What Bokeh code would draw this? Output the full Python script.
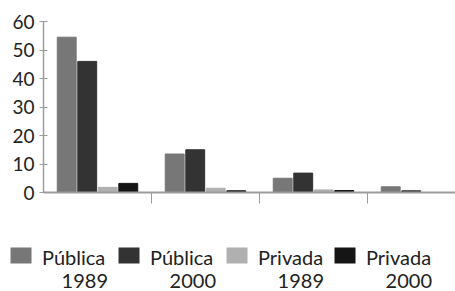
import numpy as np
from bokeh.plotting import figure
from bokeh.models import Range1d, FixedTicker, ColumnDataSource
from bokeh.transform import dodge
from bokeh.layouts import column
from bokeh.embed import file_html
from bokeh.resources import INLINE
from bokeh.core.properties import value

# ---- data ----
groups = ["G1", "G2", "G3", "G4"]
publica_1989 = [54.5, 13.5, 5.0, 2.0]
publica_2000 = [46.0, 15.0, 6.8, 0.6]
privada_1989 = [1.8, 1.5, 0.9, 0.0]
privada_2000 = [3.2, 0.6, 0.7, 0.0]
series_names = ["Pública", "Pública", "Privada", "Privada"]
series_years = ["1989", "2000", "1989", "2000"]
series_colors = ["#777777", "#333333", "#b0b0b0", "#151515"]
y_ticks = [0, 10, 20, 30, 40, 50, 60]
group_bounds = [1, 2, 3]

FONT = "Lato"
TXT = "#222222"
AXC = "#9c9c9c"

x = np.arange(len(groups)) + 0.5
src = ColumnDataSource(dict(x=x, s0=publica_1989, s1=publica_2000,
                            s2=privada_1989, s3=privada_2000))

p = figure(width=455, height=212, x_range=Range1d(0, 3.815), y_range=Range1d(0, 60),
           output_backend="svg", toolbar_location=None,
           min_border_left=43, min_border_right=0, min_border_top=21, min_border_bottom=20)
p.outline_line_color = None
p.xgrid.visible = False
p.ygrid.visible = False

offsets = [-0.285, -0.095, 0.095, 0.285]
for i, (off, col) in enumerate(zip(offsets, series_colors)):
    p.vbar(x=dodge("x", off, range=p.x_range), top=f"s{i}", width=0.175, source=src,
           fill_color=col, line_color=col)

p.yaxis.ticker = FixedTicker(ticks=y_ticks)
p.yaxis.minor_tick_line_color = None
p.yaxis.major_tick_in = 4
p.yaxis.major_tick_out = 4
p.yaxis.axis_line_color = AXC
p.yaxis.major_tick_line_color = AXC
p.yaxis.axis_line_width = 1.5
p.yaxis.major_label_text_font = FONT
p.yaxis.major_label_text_font_size = "19px"
p.yaxis.major_label_text_color = TXT
p.yaxis.major_label_standoff = 5

p.xaxis.ticker = FixedTicker(ticks=group_bounds)
p.xaxis.major_label_overrides = {b: "" for b in group_bounds}
p.xaxis.minor_tick_line_color = None
p.xaxis.major_tick_in = 0
p.xaxis.major_tick_out = 11
p.xaxis.major_tick_line_color = AXC
p.xaxis.axis_line_color = AXC
p.xaxis.axis_line_width = 2

# ---- legend strip ----
lg = figure(width=455, height=79, x_range=Range1d(-0.19, 4.023), y_range=Range1d(-36, 43),
            output_backend="svg", toolbar_location=None, min_border=0,
            x_axis_location=None, y_axis_location=None)
for fig in (p, lg):
    if "frame_align" in fig.properties():
        fig.frame_align = False
lg.outline_line_color = None
lg.xgrid.visible = False
lg.ygrid.visible = False
idx = list(range(len(series_names)))
lsrc = ColumnDataSource(dict(x=idx, y=[0] * len(idx), name=series_names,
                             year=series_years, color=series_colors))
lg.rect(x="x", y="y", width=21, height=16, width_units="screen", height_units="screen",
        fill_color="color", line_color=None, source=lsrc)
lg.text(x="x", y="y", text="name", source=lsrc, x_offset=21, y_offset=1,
        text_baseline="middle", text_align="left", text_font=value(FONT),
        text_font_size="20px", text_color=TXT)
lg.text(x="x", y="y", text="year", source=lsrc, x_offset=87, y_offset=25,
        text_baseline="middle", text_align="right", text_font=value(FONT),
        text_font_size="20px", text_color=TXT)

layout = column(p, lg, spacing=0)
open("out.html", "w").write(file_html(layout, INLINE))
